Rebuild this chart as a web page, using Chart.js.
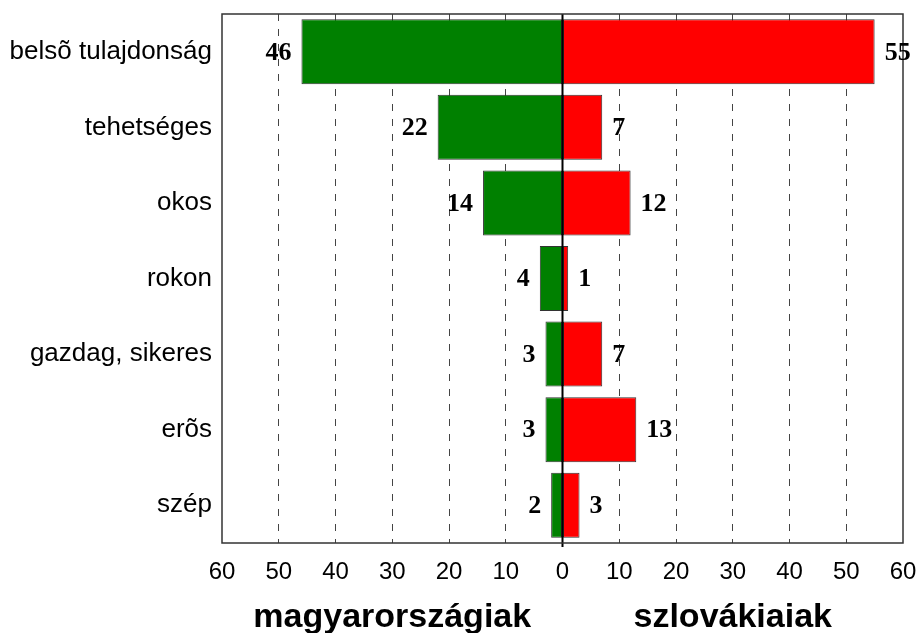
<!DOCTYPE html>
<html>
<head>
<meta charset="utf-8">
<script src="https://cdn.jsdelivr.net/npm/chart.js@4"></script>
<style>
  html, body { margin: 0; padding: 0; background: #fff; }
  #wrap { width: 920px; height: 633px; }
</style>
</head>
<body>
<div id="wrap"><canvas id="chart"></canvas></div>
<script>
// categories, top to bottom
const categories = ["belsõ tulajdonság", "tehetséges", "okos", "rokon", "gazdag, sikeres", "erõs", "szép"];
// percentages per group
const magyarValues = [46, 22, 14, 4, 3, 3, 2];
const szlovakValues = [55, 7, 12, 1, 7, 13, 3];
const groupNames = ["magyarországiak", "szlovákiaiak"];
const tickValues = [-60, -50, -40, -30, -20, -10, 0, 10, 20, 30, 40, 50, 60];

const sansFont = "'Liberation Sans', Arial, sans-serif";
const serifFont = "'Liberation Serif', 'Times New Roman', serif";

// value labels next to bar ends + frame + zero line + group titles
const decorPlugin = {
  id: "decor",
  afterDatasetsDraw(chart) {
    const ctx = chart.ctx;
    const area = chart.chartArea;
    const x = chart.scales.x;

    ctx.save();
    // zero line
    ctx.strokeStyle = "#000";
    ctx.lineWidth = 2;
    ctx.beginPath();
    ctx.moveTo(x.getPixelForValue(0), area.top);
    ctx.lineTo(x.getPixelForValue(0), area.bottom + 4);
    ctx.stroke();

    // frame
    ctx.strokeStyle = "#333";
    ctx.lineWidth = 1.5;
    ctx.strokeRect(area.left, area.top, area.right - area.left, area.bottom - area.top);

    // value labels
    ctx.fillStyle = "#000";
    ctx.font = "bold 26px " + serifFont;
    ctx.textBaseline = "middle";
    chart.data.datasets.forEach((ds, i) => {
      const meta = chart.getDatasetMeta(i);
      meta.data.forEach((bar, j) => {
        const v = Math.abs(ds.data[j]);
        if (ds.data[j] < 0) {
          ctx.textAlign = "right";
          ctx.fillText(v, bar.x - 10, bar.y + 1);
        } else {
          ctx.textAlign = "left";
          ctx.fillText(v, bar.x + 10, bar.y + 1);
        }
      });
    });

    // group titles under the axis
    ctx.font = "bold 34px " + sansFont;
    ctx.textAlign = "center";
    ctx.fillText(groupNames[0], x.getPixelForValue(-30), 618);
    ctx.fillText(groupNames[1], x.getPixelForValue(30), 618);
    ctx.restore();
  }
};

const ctx = document.getElementById("chart").getContext("2d");
new Chart(ctx, {
  type: "bar",
  data: {
    labels: categories,
    datasets: [
      {
        label: groupNames[0],
        data: magyarValues.map(v => -v),
        backgroundColor: "#008000",
        borderColor: "#333",
        borderWidth: 1,
        borderSkipped: false,
        barPercentage: 0.86,
        categoryPercentage: 1,
      },
      {
        label: groupNames[1],
        data: szlovakValues,
        backgroundColor: "#ff0000",
        borderColor: "#333",
        borderWidth: 1,
        borderSkipped: false,
        barPercentage: 0.86,
        categoryPercentage: 1,
      },
    ],
  },
  options: {
    indexAxis: "y",
    responsive: true,
    maintainAspectRatio: false,
    animation: false,
    layout: { padding: { top: 14, right: 17, left: 0, bottom: 0 } },
    plugins: {
      legend: { display: false },
      tooltip: { enabled: false },
    },
    scales: {
      x: {
        stacked: true,
        min: -60,
        max: 60,
        afterBuildTicks(scale) {
          scale.ticks = tickValues.map(v => ({ value: v }));
        },
        afterFit(scale) {
          scale.height = 90;
          scale.paddingLeft = 0;
          scale.paddingRight = 0;
        },
        ticks: {
          callback: v => Math.abs(v),
          color: "#000",
          font: { family: sansFont, size: 24 },
          padding: 15,
          maxRotation: 0,
        },
        grid: {
          drawTicks: false,
          color: c => (c.tick && (c.tick.value === 0 || Math.abs(c.tick.value) === 60)) ? "rgba(0,0,0,0)" : "#444",
          lineWidth: 1,
        },
        border: { display: false, dash: [7, 8] },
      },
      y: {
        stacked: true,
        afterFit(scale) {
          scale.width = 222;
          scale.paddingTop = 0;
          scale.paddingBottom = 0;
        },
        ticks: {
          color: "#000",
          font: { family: sansFont, size: 26 },
          padding: 10,
        },
        grid: { display: false, drawTicks: false },
        border: { display: false },
      },
    },
  },
  plugins: [decorPlugin],
});
</script>
</body>
</html>
